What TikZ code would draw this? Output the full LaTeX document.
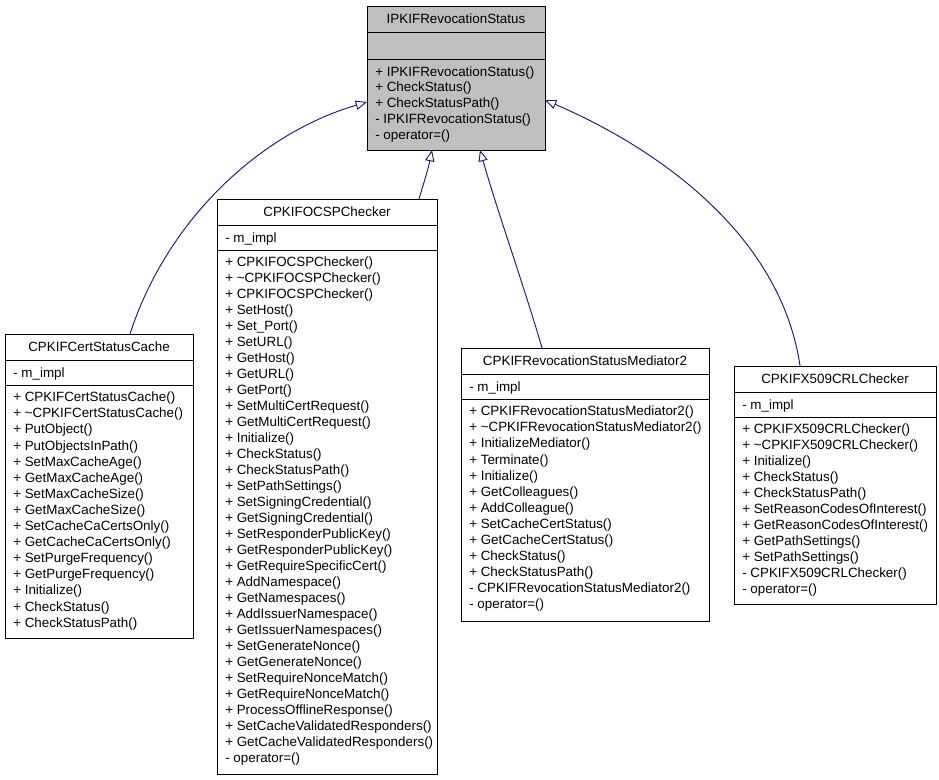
\documentclass[tikz,border=0pt]{standalone}
\usepackage{fontspec}
\setmainfont{Liberation Sans}
\usetikzlibrary{arrows.meta,calc}
\definecolor{edgecol}{RGB}{25,25,112}
\definecolor{basegray}{RGB}{191,191,191}
\newcommand\umlmembers[5]{\foreach \t [count=\i from 0] in {#5}{\node[member] (#1\i) at (#2,#3+#4*\i+4.7) {\t};}}
\tikzset{
  umlbox/.style={draw=black, line width=0.75pt, anchor=north west, inner sep=0pt, outer sep=0pt},
  umltitle/.style={font=\fontsize{10.05}{12}\selectfont, inner sep=0pt},
  member/.style={font=\fontsize{10.05}{12}\selectfont, anchor=base west, inner sep=0pt},
  sepline/.style={draw=black, line width=0.75pt},
  inherit/.style={draw=edgecol, line width=0.7pt, -{Triangle[open, length=8.5pt, width=7pt]}}
}
\begin{document}
\begin{tikzpicture}[x=0.75pt,y=-0.75pt]
\useasboundingbox (0,0) rectangle (939,779);

% base class
\node[umlbox, fill=basegray, minimum width=133.5pt, minimum height=108pt] (base) at (367,6) {};
\draw[sepline] (367,32) -- (545,32);
\draw[sepline] (367,59) -- (545,59);
\node[umltitle] (basetitle) at (456,19) {IPKIFRevocationStatus};
\umlmembers{basem}{375}{71.5}{15.7}{{+ IPKIFRevocationStatus()},{+ CheckStatus()},{+ CheckStatusPath()},{- IPKIFRevocationStatus()},{- operator=()}}

% CPKIFCertStatusCache
\node[umlbox, fill=white, minimum width=141pt, minimum height=228pt] (cache) at (5,334) {};
\draw[sepline] (5,360) -- (193,360);
\draw[sepline] (5,385) -- (193,385);
\node[umltitle] (cachetitle) at (99,347) {CPKIFCertStatusCache};
\node[member] (cacheattr) at (13,377.7) {- m\_impl};
\umlmembers{cachem}{13}{397}{16.1}{{+ CPKIFCertStatusCache()},{+ \textasciitilde CPKIFCertStatusCache()},{+ PutObject()},{+ PutObjectsInPath()},{+ SetMaxCacheAge()},{+ GetMaxCacheAge()},{+ SetMaxCacheSize()},{+ GetMaxCacheSize()},{+ SetCacheCaCertsOnly()},{+ GetCacheCaCertsOnly()},{+ SetPurgeFrequency()},{+ GetPurgeFrequency()},{+ Initialize()},{+ CheckStatus()},{+ CheckStatusPath()}}

% CPKIFOCSPChecker
\node[umlbox, fill=white, minimum width=165pt, minimum height=431.25pt] (ocsp) at (217,199) {};
\draw[sepline] (217,225) -- (437,225);
\draw[sepline] (217,250) -- (437,250);
\node[umltitle] (ocsptitle) at (327,212) {CPKIFOCSPChecker};
\node[member] (ocspattr) at (225,242.7) {- m\_impl};
\umlmembers{ocspm}{225}{262}{16}{{+ CPKIFOCSPChecker()},{+ \textasciitilde CPKIFOCSPChecker()},{+ CPKIFOCSPChecker()},{+ SetHost()},{+ Set\_Port()},{+ SetURL()},{+ GetHost()},{+ GetURL()},{+ GetPort()},{+ SetMultiCertRequest()},{+ GetMultiCertRequest()},{+ Initialize()},{+ CheckStatus()},{+ CheckStatusPath()},{+ SetPathSettings()},{+ SetSigningCredential()},{+ GetSigningCredential()},{+ SetResponderPublicKey()},{+ GetResponderPublicKey()},{+ GetRequireSpecificCert()},{+ AddNamespace()},{+ GetNamespaces()},{+ AddIssuerNamespace()},{+ GetIssuerNamespaces()},{+ SetGenerateNonce()},{+ GetGenerateNonce()},{+ SetRequireNonceMatch()},{+ GetRequireNonceMatch()},{+ ProcessOfflineResponse()},{+ SetCacheValidatedResponders()},{+ GetCacheValidatedResponders()},{- operator=()}}

% CPKIFRevocationStatusMediator2
\node[umlbox, fill=white, minimum width=186pt, minimum height=204.75pt] (med) at (461,348) {};
\draw[sepline] (461,374) -- (709,374);
\draw[sepline] (461,399) -- (709,399);
\node[umltitle] (medtitle) at (585,361) {CPKIFRevocationStatusMediator2};
\node[member] (medattr) at (469,391.7) {- m\_impl};
\umlmembers{medm}{469}{411}{16.1}{{+ CPKIFRevocationStatusMediator2()},{+ \textasciitilde CPKIFRevocationStatusMediator2()},{+ InitializeMediator()},{+ Terminate()},{+ Initialize()},{+ GetColleagues()},{+ AddColleague()},{+ SetCacheCertStatus()},{+ GetCacheCertStatus()},{+ CheckStatus()},{+ CheckStatusPath()},{- CPKIFRevocationStatusMediator2()},{- operator=()}}

% CPKIFX509CRLChecker
\node[umlbox, fill=white, minimum width=151.5pt, minimum height=178.5pt] (crl) at (734,366) {};
\draw[sepline] (734,392) -- (936,392);
\draw[sepline] (734,417) -- (936,417);
\node[umltitle] (crltitle) at (835,379) {CPKIFX509CRLChecker};
\node[member] (crlattr) at (742,409.7) {- m\_impl};
\umlmembers{crlm}{742}{429}{16}{{+ CPKIFX509CRLChecker()},{+ \textasciitilde CPKIFX509CRLChecker()},{+ Initialize()},{+ CheckStatus()},{+ CheckStatusPath()},{+ SetReasonCodesOfInterest()},{+ GetReasonCodesOfInterest()},{+ GetPathSettings()},{+ SetPathSettings()},{- CPKIFX509CRLChecker()},{- operator=()}}

% inheritance connectors
\draw[inherit] ($(cache.north west)!0.665!(cache.north east)$) .. controls (165,225) and (255,135) .. ([yshift=-18pt]base.west);
\draw[inherit] ($(ocsp.north west)!0.918!(ocsp.north east)$) .. controls (424,182) and (428,170) .. ([xshift=-18pt]base.south);
\draw[inherit] ($(med.north west)!0.327!(med.north east)$) .. controls (522,280) and (497,210) .. ([xshift=18pt]base.south);
\draw[inherit] ($(crl.north west)!0.327!(crl.north east)$) .. controls (780,230) and (650,145) .. ([yshift=-16.5pt]base.east);
\end{tikzpicture}
\end{document}
